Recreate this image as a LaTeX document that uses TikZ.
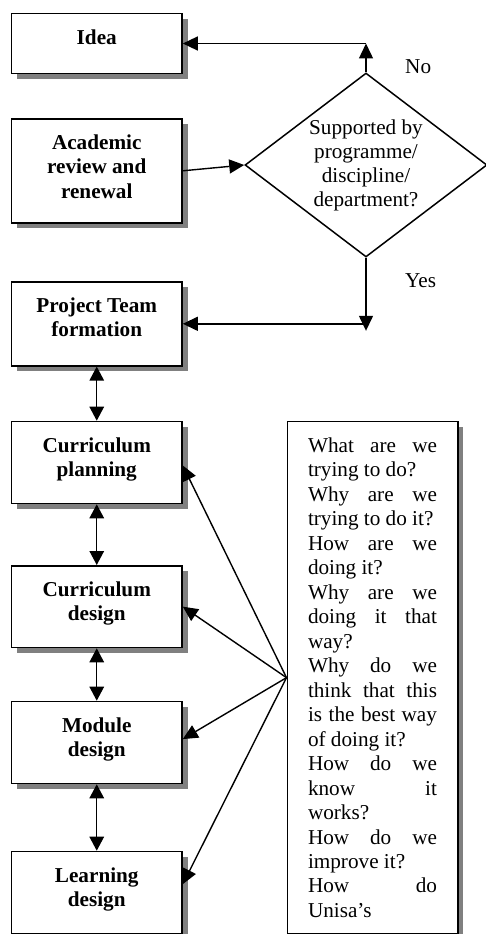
\documentclass[tikz,border=0pt]{standalone}
\usepackage{fontspec}
\setmainfont{Liberation Serif}
\usetikzlibrary{arrows.meta,shapes.geometric,shadows}

% top-aligned body of a process box: fixed height, centred lines
\newcommand\procbody[2]{\parbox[c][#1][t]{170.5pt}{\centering\vspace*{13.4pt}\strut #2}}

\begin{document}
\begin{tikzpicture}[x=1pt,y=-1pt,
  procbox/.style={draw, line width=1.6pt, fill=white, inner sep=0pt, anchor=north,
    font=\bfseries\fontsize{21.2}{24.5}\selectfont,
    general shadow={fill=black!50, shadow xshift=5.5pt, shadow yshift=-5.5pt}},
  qbox/.style={draw, line width=1.6pt, fill=white, inner xsep=20.7pt, inner ysep=0pt, anchor=north,
    font=\fontsize{21.2}{24.47}\selectfont,
    general shadow={fill=black!50, shadow xshift=5.5pt, shadow yshift=-5.5pt}},
  decision/.style={diamond, draw, line width=1.5pt, fill=white, inner sep=0pt, aspect=1.315,
    minimum width=242pt, minimum height=184pt, align=center,
    font=\fontsize{21.2}{24}\selectfont},
  answer/.style={anchor=base west, inner sep=0pt, font=\fontsize{21.2}{24}\selectfont},
  arr/.style={-{Triangle[length=15pt,width=14pt]}, line width=1.4pt},
  darr/.style={{Triangle[length=14pt,width=14.5pt]}-{Triangle[length=14pt,width=14.5pt]}, line width=1.4pt}
]
\clip (0,0) rectangle (486,934);

% process column
\node[procbox] (idea)  at (96.75,12.7)  {\procbody{60pt}{Idea}};
\node[procbox] (acad)  at (96.75,118)   {\procbody{104pt}{Academic\\review and\\renewal}};
\node[procbox] (proj)  at (96.75,281)   {\procbody{84pt}{Project Team\\formation}};
\node[procbox] (plan)  at (96.75,420.7) {\procbody{82pt}{Curriculum\\planning}};
\node[procbox] (cdes)  at (96.75,565)   {\procbody{81.7pt}{Curriculum\\design}};
\node[procbox] (mod)   at (96.75,700.7) {\procbody{82pt}{Module\\design}};
\node[procbox] (learn) at (96.75,850.7) {\procbody{82.3pt}{Learning\\design}};

% decision
\node[decision] (dec) at (366,165) {Supported by\\programme/\\discipline/\\department?};
\node[answer] (lblno)  at (405,73.3)  {No};
\node[answer] (lblyes) at (405,287.3) {Yes};

% guiding questions
\node[qbox] (qs) at (372.5,420.7) {\parbox[c][512.3pt][t]{129pt}{\vspace*{13.85pt}%
\hbox to\linewidth{\strut What\hfill are\hfill we}
\hbox to\linewidth{trying to do?\hfill}
\hbox to\linewidth{Why\hfill are\hfill we}
\hbox to\linewidth{trying to do it?\hfill}
\hbox to\linewidth{How\hfill are\hfill we}
\hbox to\linewidth{doing it?\hfill}
\hbox to\linewidth{Why\hfill are\hfill we}
\hbox to\linewidth{doing\hfill it\hfill that}
\hbox to\linewidth{way?\hfill}
\hbox to\linewidth{Why\hfill do\hfill we}
\hbox to\linewidth{think\hfill that\hfill this}
\hbox to\linewidth{is\hfill the\hfill best\hfill way}
\hbox to\linewidth{of doing it?\hfill}
\hbox to\linewidth{How\hfill do\hfill we}
\hbox to\linewidth{know\hfill it}
\hbox to\linewidth{works?\hfill}
\hbox to\linewidth{How\hfill do\hfill we}
\hbox to\linewidth{improve it?\hfill}
\hbox to\linewidth{How\hfill do}
\hbox to\linewidth{Unisa’s\hfill}}};

% decision outcomes
\coordinate (nocorner) at (dec.north |- idea.east);
\coordinate (yescorner) at (dec.south |- proj.east);
\coordinate (yestip) at ([yshift=-7pt]yescorner);
\draw[arr] (dec.north) -- (nocorner);
\draw[arr] (nocorner) -- (idea.east);
\draw[arr] (acad.east) -- (dec.west);
\draw[arr] (dec.south) -- (yestip);
\draw[arr] (yescorner) -- (proj.east);

% links down the column
\draw[darr] (proj.south) -- (plan.north);
\draw[darr] (plan.south) -- (cdes.north);
\draw[darr] (cdes.south) -- (mod.north);
\draw[darr] (mod.south) -- (learn.north);

% questions feed every design stage
\draw[arr] (qs.west) -- ([yshift=-3pt]plan.east);
\draw[arr] (qs.west) -- (cdes.east);
\draw[arr] (qs.west) -- ([yshift=3.4pt]mod.east);
\draw[arr] (qs.west) -- ([yshift=8.5pt]learn.east);
\end{tikzpicture}
\end{document}
